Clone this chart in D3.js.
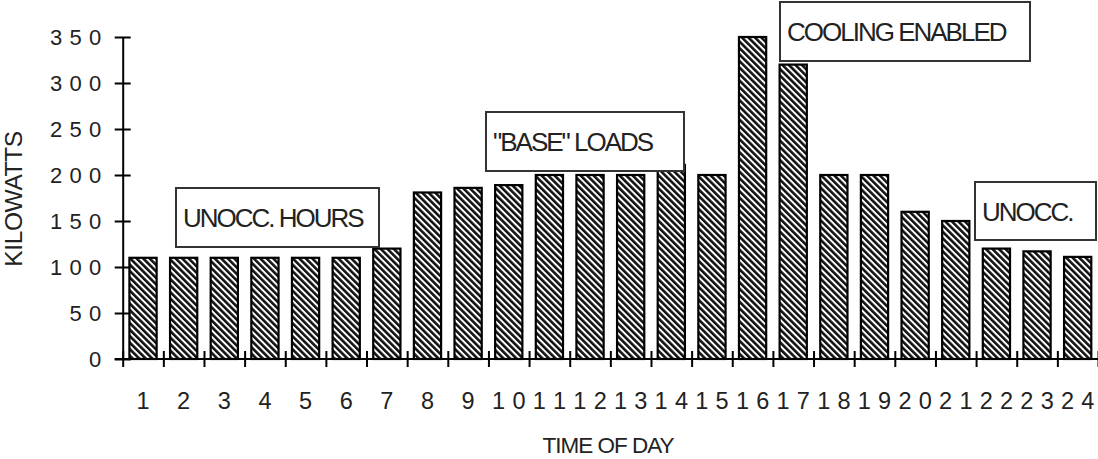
<!DOCTYPE html>
<html><head><meta charset="utf-8">
<script src="https://cdn.jsdelivr.net/npm/d3@7"></script>
<style>
html,body{margin:0;padding:0;background:#fff;}
svg{display:block;}
text{font-family:"Liberation Sans",Arial,sans-serif;fill:#222;}
</style></head>
<body>
<svg id="chart" width="1098" height="459"></svg>
<script>
// ---- data ----
const hours = ["1","2","3","4","5","6","7","8","9","10","11","12","13","14","15","16","17","18","19","20","21","22","23","24"];
const kilowatts = [110,110,110,110,110,110,120,181,186,189,200,200,200,211,200,350,320,200,200,160,150,120,117,111];
const yTicks = [0,50,100,150,200,250,300,350];
const yTickLabels = ["0","50","100","150","200","250","300","350"];
const annotationTexts = ["UNOCC. HOURS", "\"BASE\" LOADS", "COOLING ENABLED", "UNOCC."];
const yTitle = "KILOWATTS";
const xTitle = "TIME OF DAY";

// ---- layout ----
const L = 122.7, R = 1098, T = 37, B = 359;
const svg = d3.select("#chart");

const x = d3.scaleBand().domain(hours).range([L, R]).paddingInner(0.33).paddingOuter(0.165);
const xEdge = d3.scaleLinear().domain([0, hours.length]).range([L, R]);
const y = d3.scaleLinear().domain([0, 350]).range([B, T]);

// hatch pattern
const defs = svg.append("defs");
const pat = defs.append("pattern").attr("id","hatch").attr("patternUnits","userSpaceOnUse")
  .attr("width",4.6).attr("height",10).attr("patternTransform","rotate(-45)");
pat.append("rect").attr("width",4.6).attr("height",10).attr("fill","#fff");
pat.append("rect").attr("width",2.6).attr("height",10).attr("fill","#111");

// bars
svg.append("g").selectAll("rect").data(kilowatts).join("rect")
  .attr("x",(d,i)=>x(hours[i]))
  .attr("y",d=>y(d))
  .attr("width",x.bandwidth())
  .attr("height",d=>y(0)-y(d))
  .attr("fill","url(#hatch)")
  .attr("stroke","#000").attr("stroke-width",2.2);

// y axis
const yAxis = svg.append("g").attr("transform",`translate(${L},0)`)
  .call(d3.axisLeft(y).tickValues(yTicks).tickFormat("").tickSizeOuter(0).tickSizeInner(8));
yAxis.select(".domain").attr("stroke","#000").attr("stroke-width",2);
yAxis.selectAll(".tick line").attr("x1",-8).attr("x2",8).attr("stroke","#000").attr("stroke-width",2);

// y tick labels (spaced digits, right aligned)
const yLab = svg.append("g");
yTicks.forEach((v,k)=>{
  const s = yTickLabels[k];
  const n = s.length;
  for (let i=0;i<n;i++){
    yLab.append("text").attr("x",95 - (n-1-i)*19.5).attr("y",y(v)+8)
      .attr("text-anchor","middle").attr("font-size",22).text(s[i]);
  }
});

// x axis
const xAxis = svg.append("g").attr("transform",`translate(0,${B})`)
  .call(d3.axisBottom(xEdge).tickValues(d3.range(0,hours.length+1)).tickFormat("").tickSizeOuter(0).tickSizeInner(8));
xAxis.select(".domain").attr("stroke","#000").attr("stroke-width",2).attr("d",`M${L-8},0H${R}`);
xAxis.selectAll(".tick line").attr("y1",-8).attr("y2",8).attr("stroke","#000").attr("stroke-width",2);

// x tick labels (spaced digits, centred in band)
const xLab = svg.append("g");
const pitch = xEdge(1)-xEdge(0);
hours.forEach(h=>{
  const c = x(h)+x.bandwidth()/2;
  const n = h.length;
  for (let i=0;i<n;i++){
    xLab.append("text").attr("x",c + (i-(n-1)/2)*pitch/2).attr("y",409)
      .attr("text-anchor","middle").attr("font-size",23.5).text(h[i]);
  }
});

// titles
svg.append("text").attr("transform",`translate(22,199) rotate(-90)`).attr("text-anchor","middle")
  .attr("font-size",24.5).attr("letter-spacing",-0.4).text(yTitle);
svg.append("text").attr("x",608).attr("y",453).attr("text-anchor","middle")
  .attr("font-size",22.5).attr("letter-spacing",-1).text(xTitle);

// annotation boxes
const boxes = [
  {x0:176, y0:188, w:203, h:59},
  {x0:486, y0:112, w:198, h:59},
  {x0:780, y0:2,   w:250, h:59},
  {x0:975, y0:182, w:121, h:58}
];
const ann = svg.append("g");
boxes.forEach((b,i)=>{
  ann.append("rect").attr("x",b.x0).attr("y",b.y0).attr("width",b.w).attr("height",b.h)
    .attr("fill","#fff").attr("stroke","#333").attr("stroke-width",2);
  ann.append("text").attr("x",b.x0+7).attr("y",b.y0+b.h/2+9.5)
    .attr("font-size",26).attr("letter-spacing",-2).text(annotationTexts[i]);
});
</script>
</body></html>
